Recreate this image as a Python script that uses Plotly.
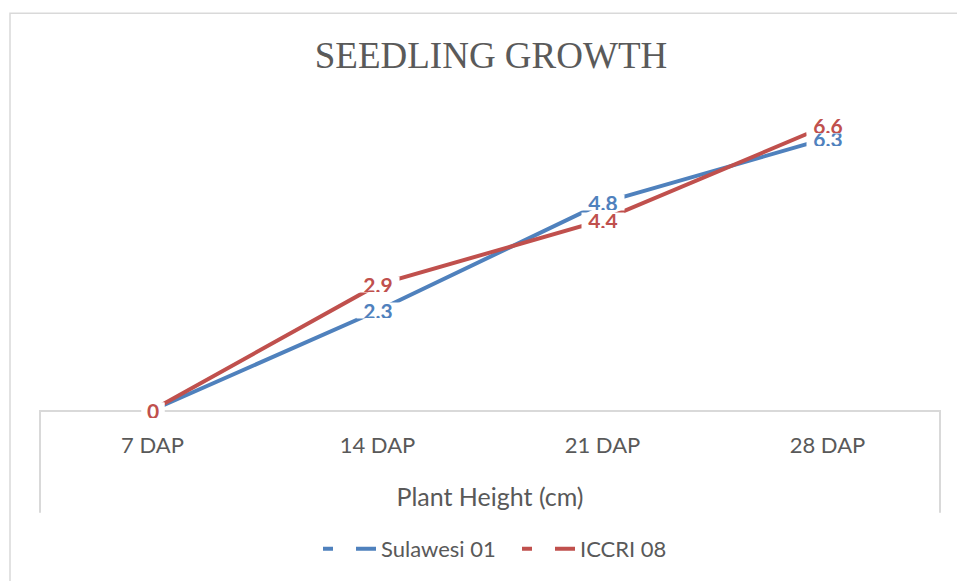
import plotly.graph_objects as go

categories = ["7 DAP", "14 DAP", "21 DAP", "28 DAP"]
sulawesi = [0, 2.3, 4.8, 6.3]
iccri = [0, 2.9, 4.4, 6.6]
series_names = ["Sulawesi 01", "ICCRI 08"]
colors = ["#4F81BD", "#C0504D"]
x_title = "Plant Height (cm)"
chart_title = "SEEDLING GROWTH"

W, H = 957, 581
L, R, T, B = 40, 17, 108, 170
ph = H - T - B
pw = W - L - R

fig = go.Figure()
for name, vals, col in zip(series_names, [sulawesi, iccri], colors):
    fig.add_trace(go.Scatter(x=categories, y=vals, mode="lines", name=name,
                             line=dict(color=col, width=4), showlegend=False,
                             hoverinfo="skip"))
# legend entries (dashed symbols as in reference)
for name, col in zip(series_names, colors):
    fig.add_trace(go.Scatter(x=[None], y=[None], mode="lines", name=name,
                             line=dict(color=col, width=4, dash="10px,23px,20px"),
                             showlegend=True))

annotations = []
for vals, col in zip([sulawesi, iccri], colors):
    for c, v in zip(categories, vals):
        annotations.append(dict(x=c, y=v, xref="x", yref="y", text=f"<b>{v:g}</b>",
                                showarrow=False, bgcolor="white", borderpad=0, height=15,
                                width=42 if v else 22,
                                font=dict(family="Lato", size=21, color=col)))

fig.update_layout(
    width=W, height=H,
    margin=dict(l=L, r=R, t=T, b=B),
    paper_bgcolor="white", plot_bgcolor="white",
    title=dict(text=chart_title, x=491 / W, xanchor="center", y=1 - 55 / H, yanchor="middle",
               font=dict(family="Liberation Serif", size=37, color="#5a5a5a")),
    xaxis=dict(type="category", range=[-0.5, 3.5], showline=True, linecolor="#d9d9d9",
               linewidth=2, showgrid=False, zeroline=False, ticks="",
               ticklabelstandoff=15,
               tickfont=dict(family="Lato", size=22, color="#595959"),
               title=dict(text=x_title, standoff=31,
                          font=dict(family="Lato", size=25, color="#595959"))),
    yaxis=dict(range=[0, 7], visible=False, showgrid=False, zeroline=False),
    legend=dict(orientation="h", x=(517 - L) / pw, xanchor="center",
                y=-(549 - (T + ph)) / ph, yanchor="middle", itemwidth=53,
                entrywidth=131,
                font=dict(family="Lato", size=22, color="#595959")),
    annotations=annotations,
    shapes=[
        dict(type="line", xref="paper", yref="paper", x0=0, x1=0, y0=0, y1=-(514 - 411) / ph,
             line=dict(color="#d9d9d9", width=2)),
        dict(type="line", xref="paper", yref="paper", x0=1, x1=1, y0=0, y1=-(514 - 411) / ph,
             line=dict(color="#d9d9d9", width=2)),
        dict(type="rect", xref="paper", yref="paper", x0=(10 - L) / pw, x1=(970 - L) / pw,
             y0=-(600 - 411) / ph, y1=(411 - 13) / ph, line=dict(color="#d9d9d9", width=1.5)),
    ],
)

fig.write_html("out.html", config={"displayModeBar": False},
               post_script="document.body.style.margin='0';")
